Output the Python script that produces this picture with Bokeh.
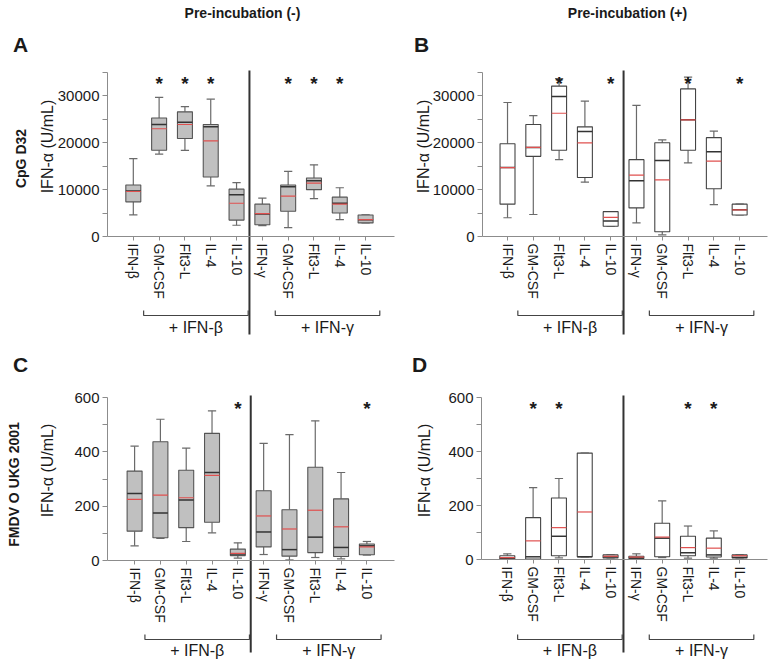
import math
from bokeh.plotting import figure
from bokeh.layouts import column, row
from bokeh.models import FixedTicker, Label, ColumnDataSource, Range1d
from bokeh.embed import file_html
from bokeh.resources import INLINE

FONT = "Liberation Sans"

# ---------------- data ----------------
categories = ["IFN-β", "GM-CSF", "Flt3-L", "IL-4", "IL-10",
              "IFN-γ", "GM-CSF", "Flt3-L", "IL-4", "IL-10"]
group_labels = ["+ IFN-β", "+ IFN-γ"]
col_titles = ["Pre-incubation (-)", "Pre-incubation (+)"]
row_titles = ["CpG D32", "FMDV  O UKG 2001"]
y_title = "IFN-α (U/mL)"

ticks_cpg = [0, 5000, 10000, 15000, 20000, 25000, 30000, 35000]
labeled_cpg = [0, 10000, 20000, 30000]
ticks_fmdv = [0, 100, 200, 300, 400, 500, 600]
labeled_fmdv = [0, 200, 400, 600]

# Panel A: CpG D32, pre-incubation (-)
A_low = [4600, 17600, 18400, 10800, 2400, 2300, 1900, 8100, 3600, 2900]
A_q1 = [7400, 18400, 20900, 12700, 3500, 2500, 5400, 10000, 5000, 2900]
A_med = [9700, 23900, 24400, 23400, 8900, 4800, 10600, 11900, 7100, 3600]
A_mean = [9600, 23000, 23900, 20400, 7100, 4900, 8600, 11400, 6900, 3600]
A_q3 = [11000, 25300, 26600, 23900, 10100, 6900, 11000, 12500, 8400, 4600]
A_high = [16600, 29700, 27700, 29300, 11500, 8200, 13900, 15300, 10400, 4600]
A_sig = [0, 1, 1, 1, 0, 0, 1, 1, 1, 0]

# Panel B: CpG D32, pre-incubation (+)
B_low = [4000, 4700, 16400, 11600, 2200, 2900, 360, 15700, 6800, 4600]
B_q1 = [6900, 17100, 18400, 12600, 2200, 6100, 1000, 18400, 10200, 4600]
B_med = [14700, 19000, 29900, 22400, 3300, 11900, 16200, 24900, 18100, 5700]
B_mean = [14700, 19000, 26300, 20000, 4100, 13100, 12100, 24900, 16100, 5700]
B_q3 = [19800, 23900, 32100, 23400, 5300, 16400, 20000, 31500, 21100, 6900]
B_high = [28600, 25800, 33700, 28900, 5300, 28000, 20600, 34000, 22500, 6900]
B_sig = [0, 0, 1, 0, 1, 0, 0, 1, 0, 1]

# Panel C: FMDV O UKG 2001, pre-incubation (-)
C_low = [54, 81, 70, 102, 9, 22, 2, 11, 6, 20]
C_q1 = [108, 84, 121, 141, 18, 50, 16, 29, 15, 21]
C_med = [247, 175, 223, 324, 24, 105, 40, 86, 48, 54]
C_mean = [225, 241, 231, 313, 26, 164, 116, 185, 124, 50]
C_q3 = [329, 437, 332, 468, 42, 257, 187, 343, 227, 61]
C_high = [421, 520, 414, 551, 65, 431, 463, 514, 324, 70]
C_sig = [0, 0, 0, 0, 1, 0, 0, 0, 0, 1]

# Panel D: FMDV O UKG 2001, pre-incubation (+)
D_low = [1, 2, 6, 10, 6, 3, 7, 5, 5, 6]
D_q1 = [2, 2, 14, 10, 6, 4, 10, 14, 9, 6]
D_med = [5, 10, 86, 10, 10, 6, 79, 25, 17, 8]
D_mean = [7, 69, 118, 176, 12, 9, 83, 44, 42, 14]
D_q3 = [14, 155, 228, 394, 17, 12, 134, 86, 79, 17]
D_high = [21, 266, 300, 394, 17, 21, 217, 124, 106, 17]
D_sig = [0, 1, 1, 0, 0, 0, 0, 1, 1, 0]

# ---------------- layout (page pixel positions) ----------------
# fl/fr/ft/fb: pixel box of the axes; xr/yr: data values at those pixels;
# cx0/cy0/w/h: the figure canvas on the page.
LAYOUT = {
    "A": dict(fl=107, fr=394, ft=72, fb=236, cx0=0, cy0=0, w=395, h=340, xr=(-1.0, 10.12), yr=(0, 35000)),
    "B": dict(fl=482, fr=767, ft=72, fb=236, cx0=395, cy0=0, w=373, h=340, xr=(-0.97, 10.08), yr=(0, 35000)),
    "C": dict(fl=107, fr=394, ft=397, fb=560, cx0=0, cy0=340, w=395, h=320, xr=(-1.05, 10.07), yr=(0, 600)),
    "D": dict(fl=481, fr=767, ft=397, fb=559, cx0=395, cy0=340, w=373, h=320, xr=(-1.0, 10.08), yr=(0, 600)),
}

AXIS = "#8c8c8c"
TXT = "#1a1a1a"
RED = "#e0504f"
DARK = "#333333"


def px_x(L, px):
    x0, x1 = L["xr"]
    return x0 + (px - L["fl"]) * (x1 - x0) / (L["fr"] - L["fl"])


def py_y(L, py):
    y0, y1 = L["yr"]
    return y1 - (py - L["ft"]) * (y1 - y0) / (L["fb"] - L["ft"])


def text(p, x, y, s, size, bold=False, angle=0.0, align="center", baseline="middle", color=TXT):
    p.add_layout(Label(x=x, y=y, text=s, text_font=FONT, text_font_size=size,
                       text_font_style="bold" if bold else "normal", angle=angle,
                       text_align=align, text_baseline=baseline, text_color=color))


def build(key, low, q1, med, mean, q3, high, sig, filled, ticks, labeled, ylab_px, ypos):
    L = LAYOUT[key]
    xrng = Range1d(px_x(L, L["cx0"]), px_x(L, L["cx0"] + L["w"]))
    yrng = Range1d(py_y(L, L["cy0"] + L["h"]), py_y(L, L["cy0"]))
    p = figure(width=L["w"], height=L["h"], x_range=xrng, y_range=yrng,
               output_backend="svg", toolbar_location=None, title=None,
               min_border_left=0, min_border_right=0, min_border_top=0, min_border_bottom=0)
    p.outline_line_color = None
    p.xgrid.visible = False
    p.ygrid.visible = False
    p.background_fill_color = "white"
    p.border_fill_color = "white"

    xs = list(range(len(categories)))
    unit = (L["fr"] - L["fl"]) / (L["xr"][1] - L["xr"][0])
    box_w = 0.58
    src = ColumnDataSource(dict(x=xs, low=low, q1=q1, med=med, mean=mean, q3=q3, high=high))

    wcol = "#6a6a6a"
    p.segment(x0="x", y0="q3", x1="x", y1="high", source=src, line_color=wcol, line_width=1.2)
    p.segment(x0="x", y0="q1", x1="x", y1="low", source=src, line_color=wcol, line_width=1.2)
    p.scatter(x="x", y="high", source=src, marker="dash", size=0.32 * unit, line_color=wcol, line_width=1.2)
    p.scatter(x="x", y="low", source=src, marker="dash", size=0.32 * unit, line_color=wcol, line_width=1.2)
    p.vbar(x="x", width=box_w, bottom="q1", top="q3", source=src,
           fill_color="#c0c0c0" if filled else "white",
           line_color="#555555" if filled else "#444444", line_width=1.1)
    p.scatter(x="x", y="med", source=src, marker="dash", size=box_w * unit, line_color=DARK, line_width=1.5)
    p.scatter(x="x", y="mean", source=src, marker="dash", size=box_w * unit, line_color=RED, line_width=1.2)

    # axes, pinned inside the (full-canvas) frame
    xa = p.xaxis[0]
    xa.fixed_location = L["yr"][0]
    xa.bounds = L["xr"]
    xa.ticker = FixedTicker(ticks=xs)
    xa.major_label_overrides = {i: c for i, c in enumerate(categories)}
    xa.major_label_orientation = "vertical"
    xa.major_tick_out = 4
    xa.major_tick_in = 0
    xa.minor_tick_line_color = None
    xa.axis_line_color = AXIS
    xa.major_tick_line_color = AXIS
    xa.major_label_text_font = FONT
    xa.major_label_text_font_size = "14px"
    xa.major_label_text_color = TXT
    xa.major_label_standoff = 3

    ya = p.yaxis[0]
    ya.fixed_location = L["xr"][0]
    ya.bounds = L["yr"]
    ya.ticker = FixedTicker(ticks=ticks)
    ya.major_label_overrides = {t: (str(t) if t in labeled else "") for t in ticks}
    ya.major_tick_out = 5
    ya.major_tick_in = 0
    ya.minor_tick_line_color = None
    ya.axis_line_color = AXIS
    ya.major_tick_line_color = AXIS
    ya.major_label_text_font = FONT
    ya.major_label_text_font_size = "15px"
    ya.major_label_text_color = TXT
    ya.major_label_standoff = 3

    # y title
    text(p, px_x(L, ylab_px[0]), py_y(L, ylab_px[1]), y_title, "16px", angle=math.pi / 2)

    # significance stars
    star_base = py_y(L, L["ft"] + 11)
    for i, s in enumerate(sig):
        if s:
            text(p, xs[i], star_base, "*", "19px", bold=True, baseline="alphabetic")

    # divider between groups
    p.segment(x0=[4.5], y0=[py_y(L, L["ft"] - 2)], x1=[4.5], y1=[py_y(L, ypos["div_end"])],
              line_color=DARK, line_width=2)

    # brackets with group labels
    yb = py_y(L, ypos["bracket"])
    yt = py_y(L, ypos["bracket"] - 5)
    spans = [(0.4, 4.45), (5.5, 9.55)]
    p.multi_line(xs=[[a, a, b, b] for a, b in spans], ys=[[yt, yb, yb, yt] for _ in spans],
                 line_color="#444444", line_width=1.2)
    for (a, b), g in zip(spans, group_labels):
        text(p, (a + b) / 2, py_y(L, ypos["glabel"]), g, "16px")

    # panel letter
    text(p, px_x(L, ypos["letter"][0]), py_y(L, ypos["letter"][1]), key, "21px", bold=True)
    return p, L


top_pos = dict(div_end=334, bracket=315, glabel=327)
bot_pos = dict(div_end=652, bracket=639, glabel=650)

pA, LA = build("A", A_low, A_q1, A_med, A_mean, A_q3, A_high, A_sig, True, ticks_cpg, labeled_cpg,
               (47, 146), dict(top_pos, letter=(20, 44)))
pB, LB = build("B", B_low, B_q1, B_med, B_mean, B_q3, B_high, B_sig, False, ticks_cpg, labeled_cpg,
               (423, 146), dict(top_pos, letter=(421, 44)))
pC, LC = build("C", C_low, C_q1, C_med, C_mean, C_q3, C_high, C_sig, True, ticks_fmdv, labeled_fmdv,
               (47, 470), dict(bot_pos, letter=(20, 364)))
pD, LD = build("D", D_low, D_q1, D_med, D_mean, D_q3, D_high, D_sig, False, ticks_fmdv, labeled_fmdv,
               (424, 470), dict(bot_pos, letter=(419, 364)))

# column titles
text(pA, px_x(LA, 242), py_y(LA, 12), col_titles[0], "14px", bold=True)
text(pB, px_x(LB, 627), py_y(LB, 12), col_titles[1], "14px", bold=True)
# row titles
text(pA, px_x(LA, 20), py_y(LA, 158), row_titles[0], "14px", bold=True, angle=math.pi / 2)
text(pC, px_x(LC, 13), py_y(LC, 482), row_titles[1], "14px", bold=True, angle=math.pi / 2)

layout = column(row(pA, pB), row(pC, pD))
open("out.html", "w").write(file_html(layout, INLINE))
